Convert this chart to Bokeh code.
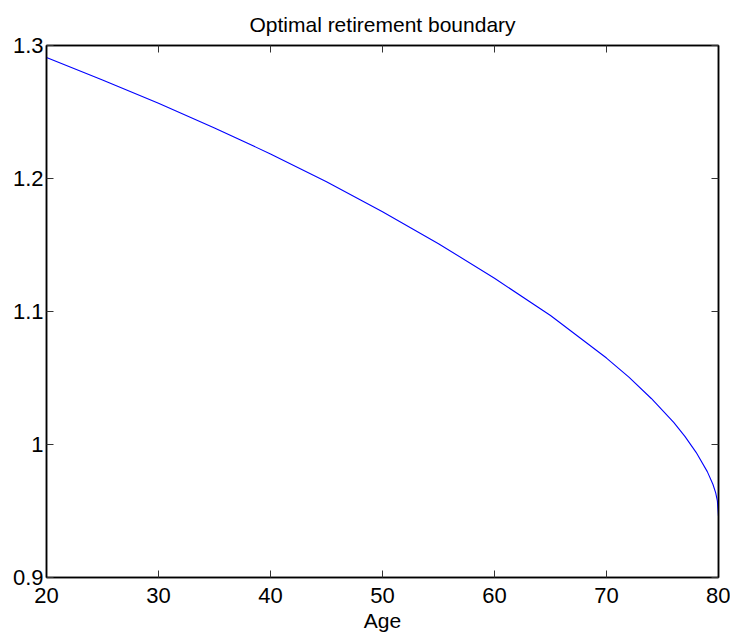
from bokeh.plotting import figure
from bokeh.models import LinearAxis, FixedTicker, Range1d
from bokeh.embed import file_html
from bokeh.resources import INLINE

# Data
ages = [20, 25, 30, 35, 40, 45, 50, 55, 60, 65, 70, 72, 74, 76, 77, 78, 79,
        79.5, 79.75, 79.9, 80]
boundary = [1.291, 1.274, 1.2565, 1.238, 1.2185, 1.1975, 1.175, 1.151, 1.125,
            1.097, 1.065, 1.0506, 1.0346, 1.0166, 1.0061, 0.9941, 0.9796,
            0.9701, 0.9636, 0.9576, 0.946]

x_ticks = [20, 30, 40, 50, 60, 70, 80]
y_ticks = [0.9, 1.0, 1.1, 1.2, 1.3]
y_tick_labels = ["0.9", "1", "1.1", "1.2", "1.3"]

FONT = "Liberation Sans"

p = figure(width=730, height=634,
           x_range=Range1d(20, 80), y_range=Range1d(0.9, 1.3),
           output_backend="svg", toolbar_location=None,
           min_border_left=46, min_border_right=12,
           min_border_top=45, min_border_bottom=57)

p.line(ages, boundary, line_color="#0000ff", line_width=1.1)

p.xgrid.visible = False
p.ygrid.visible = False
p.background_fill_color = "white"
p.border_fill_color = "white"
p.outline_line_color = "black"
p.outline_line_width = 1.5

p.title.text = "Optimal retirement boundary"
p.title.align = "center"
p.title.text_font = FONT
p.title.text_font_size = "21px"
p.title.text_font_style = "normal"
p.title.text_color = "black"
p.title.standoff = 19

def style(ax, ticks, labels=True):
    ax.ticker = FixedTicker(ticks=ticks)
    ax.axis_line_color = "black"
    ax.axis_line_width = 1.5
    ax.major_tick_in = 7
    ax.major_tick_out = 0
    ax.major_tick_line_color = "#333333"
    ax.major_tick_line_width = 1
    ax.minor_tick_line_color = None
    ax.major_label_text_font = FONT
    ax.major_label_text_color = "black"
    if labels:
        ax.major_label_text_font_size = "22px"
    else:
        ax.major_label_text_font_size = "0px"
        ax.major_label_standoff = 0

style(p.xaxis[0], x_ticks)
p.xaxis[0].major_label_standoff = 10
p.xaxis[0].axis_label = "Age"
p.xaxis[0].axis_label_text_font = FONT
p.xaxis[0].axis_label_text_font_size = "21px"
p.xaxis[0].axis_label_text_font_style = "normal"
p.xaxis[0].axis_label_text_color = "black"
p.xaxis[0].axis_label_standoff = 3

style(p.yaxis[0], y_ticks)
p.yaxis[0].major_label_standoff = 3
p.yaxis[0].major_label_overrides = {t: l for t, l in zip(y_ticks, y_tick_labels)}

top = LinearAxis()
style(top, x_ticks, labels=False)
p.add_layout(top, "above")

right = LinearAxis()
style(right, y_ticks, labels=False)
p.add_layout(right, "right")

open("out.html", "w").write(file_html(p, INLINE))
